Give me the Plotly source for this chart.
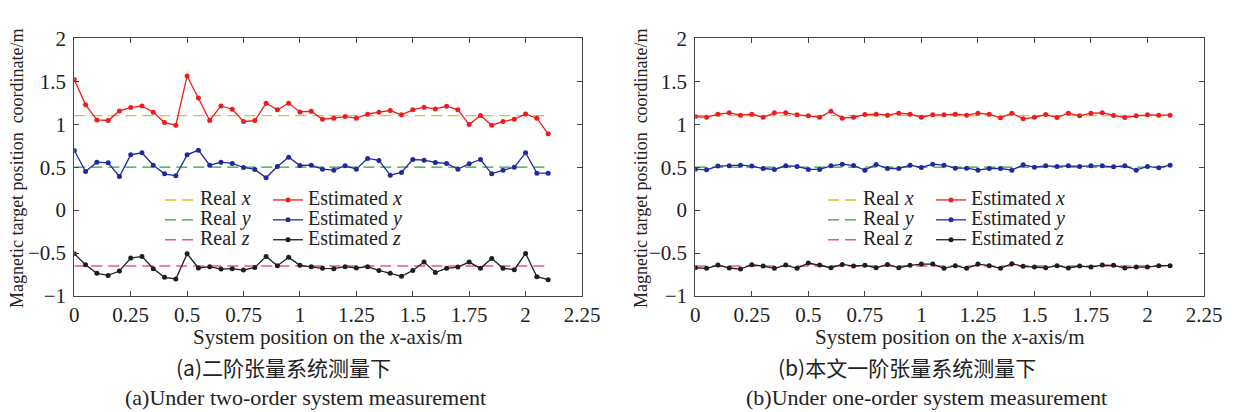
import plotly.graph_objects as go

# ---------------- data ----------------
positions = [round(0.05 * i, 2) for i in range(43)]  # 0 .. 2.1 m

real_x = 1.1
real_y = 0.5
real_z = -0.65

# (a) two-order system
a_est_x = [1.52, 1.225, 1.05, 1.043, 1.155, 1.194, 1.213, 1.14, 1.019, 0.988,
           1.562, 1.306, 1.043, 1.213, 1.174, 1.031, 1.043, 1.244, 1.167, 1.244,
           1.143, 1.151, 1.058, 1.07, 1.089, 1.07, 1.116, 1.14, 1.159, 1.109,
           1.167, 1.198, 1.178, 1.209, 1.167, 0.996, 1.101, 0.988, 1.031, 1.058,
           1.12, 1.07, 0.888]
a_est_y = [0.694, 0.45, 0.558, 0.55, 0.391, 0.643, 0.667, 0.523, 0.422, 0.399,
           0.643, 0.698, 0.523, 0.558, 0.543, 0.496, 0.473, 0.376, 0.508, 0.616,
           0.519, 0.523, 0.477, 0.465, 0.516, 0.477, 0.601, 0.578, 0.407, 0.438,
           0.589, 0.581, 0.554, 0.543, 0.477, 0.539, 0.589, 0.422, 0.465, 0.5,
           0.667, 0.43, 0.43]
a_est_z = [-0.508, -0.636, -0.736, -0.76, -0.709, -0.558, -0.539, -0.682, -0.783, -0.802,
           -0.508, -0.674, -0.659, -0.686, -0.682, -0.698, -0.667, -0.539, -0.647, -0.55,
           -0.643, -0.659, -0.678, -0.682, -0.659, -0.674, -0.659, -0.702, -0.736, -0.771,
           -0.702, -0.605, -0.725, -0.678, -0.663, -0.605, -0.678, -0.562, -0.678, -0.694,
           -0.504, -0.775, -0.81]

# (b) one-order system (this paper)
b_est_x = [1.089, 1.081, 1.116, 1.132, 1.105, 1.116, 1.081, 1.132, 1.132, 1.109,
           1.097, 1.081, 1.151, 1.07, 1.081, 1.112, 1.116, 1.105, 1.128, 1.116,
           1.081, 1.109, 1.109, 1.116, 1.105, 1.128, 1.116, 1.074, 1.128, 1.062,
           1.081, 1.112, 1.078, 1.128, 1.097, 1.128, 1.132, 1.101, 1.078, 1.097,
           1.109, 1.105, 1.105]
b_est_y = [0.477, 0.469, 0.512, 0.516, 0.523, 0.512, 0.484, 0.473, 0.516, 0.508,
           0.473, 0.473, 0.516, 0.535, 0.519, 0.465, 0.531, 0.484, 0.484, 0.523,
           0.496, 0.535, 0.523, 0.488, 0.488, 0.465, 0.484, 0.484, 0.465, 0.527,
           0.5, 0.516, 0.508, 0.516, 0.508, 0.516, 0.516, 0.504, 0.516, 0.465,
           0.508, 0.492, 0.523]
b_est_z = [-0.671, -0.678, -0.64, -0.674, -0.686, -0.636, -0.651, -0.678, -0.64, -0.678,
           -0.616, -0.64, -0.671, -0.632, -0.651, -0.643, -0.671, -0.632, -0.671, -0.643,
           -0.628, -0.628, -0.678, -0.647, -0.678, -0.628, -0.647, -0.678, -0.624, -0.655,
           -0.663, -0.671, -0.647, -0.674, -0.651, -0.663, -0.64, -0.643, -0.674, -0.663,
           -0.663, -0.647, -0.647]

x_ticks = [0, 0.25, 0.5, 0.75, 1, 1.25, 1.5, 1.75, 2, 2.25]
x_tick_labels = ["0", "0.25", "0.5", "0.75", "1", "1.25", "1.5", "1.75", "2", "2.25"]
y_ticks = [-1, -0.5, 0, 0.5, 1, 1.5, 2]
y_tick_labels = ["\u22121", "\u22120.5", "0", "0.5", "1", "1.5", "2"]

y_title = "Magnetic target position \u00a0coordinate/m"
x_title = "System position on the <i>x</i>-axis/m"
captions_cn = ["(a)二阶张量系统测量下", "(b)本文一阶张量系统测量下"]
captions_en = ["(a)Under two-order system measurement", "(b)Under one-order system measurement"]

# ---------------- style ----------------
OFF = 8                      # default page margin of the html body
PAGE_W, PAGE_H = 1234, 412
W, H = PAGE_W - OFF, PAGE_H - OFF


def fx(px):   # page pixel -> paper x
    return (px - OFF) / W


def fy(py):   # page pixel -> paper y
    return 1 - (py - OFF) / H


SERIF = "Liberation Serif, Times New Roman, serif"
CJK = "Noto Sans CJK SC"
INK = "#222"
C_REAL = ["#d2c51c", "#2aa336", "#ec4f9c"]
C_EST = ["#ee1c1c", "#1f2a9e", "#1e1e1e"]
LEG_SPAN = '<span style="font-size:20px">{}</span>'
names_real = [LEG_SPAN.format(s) for s in ["Real <i>x</i>", "Real <i>y</i>", "Real <i>z</i>"]]
names_est = [LEG_SPAN.format(s) for s in ["Estimated <i>x</i>", "Estimated <i>y</i>", "Estimated <i>z</i>"]]

# plot areas (page pixels)
panels = [(74.3, 582.0), (695.3, 1204.0)]
top_px, bot_px = 38.3, 296.0

fig = go.Figure()

panel_data = [(a_est_x, a_est_y, a_est_z), (b_est_x, b_est_y, b_est_z)]
reals = [real_x, real_y, real_z]
legend_ids = [("legend", "legend2"), ("legend3", "legend4")]

for p, (ests, (lg_r, lg_e)) in enumerate(zip(panel_data, legend_ids)):
    xa = "x" if p == 0 else "x2"
    ya = "y" if p == 0 else "y2"
    for k in range(3):
        fig.add_trace(go.Scatter(
            x=[positions[0], positions[-1]], y=[reals[k], reals[k]],
            mode="lines", name=names_real[k], legend=lg_r,
            line=dict(color=C_REAL[k], width=1.4, dash="11px,6px"),
            xaxis=xa, yaxis=ya, showlegend=True))
    for k in range(3):
        fig.add_trace(go.Scatter(
            x=positions, y=ests[k],
            mode="lines+markers", name=names_est[k], legend=lg_e,
            line=dict(color=C_EST[k], width=1.3),
            marker=dict(color=C_EST[k], size=5),
            xaxis=xa, yaxis=ya, showlegend=True))

axis_common = dict(
    showgrid=False, zeroline=False, showline=True, linecolor="#444", linewidth=1,
    mirror="ticks", ticks="inside", ticklen=5, tickcolor="#444",
    tickfont=dict(family=SERIF, size=21, color=INK), automargin=False,
)

layout = dict(
    width=W, height=H, margin=dict(l=0, r=0, t=0, b=0),
    paper_bgcolor="white", plot_bgcolor="white",
    font=dict(family=SERIF, size=17, color=INK),
)
ydom = [fy(bot_px), fy(top_px)]
for p, (l, r) in enumerate(panels):
    sfx = "" if p == 0 else "2"
    layout["xaxis" + sfx] = dict(
        axis_common, domain=[fx(l), fx(r)], range=[0, 2.25],
        tickvals=x_ticks, ticktext=x_tick_labels, anchor="y" + sfx,
        ticklabelstandoff=0)
    layout["yaxis" + sfx] = dict(
        axis_common, domain=ydom, range=[-1, 2],
        tickvals=y_ticks, ticktext=y_tick_labels, anchor="x" + sfx,
        ticklabelstandoff=3)

leg_common = dict(
    orientation="v", yanchor="middle", xanchor="left", bgcolor="rgba(0,0,0,0)",
    borderwidth=0, font=dict(family=SERIF, size=13, color=INK),
    tracegroupgap=0, itemclick=False, itemdoubleclick=False,
)
leg_x_page = [160, 268, 823, 931]
for name, xp in zip(["legend", "legend2", "legend3", "legend4"], leg_x_page):
    layout[name] = dict(leg_common, x=fx(xp), y=fy(220))

fig.update_layout(**layout)

# axis titles and captions (page pixel centres)
ytitle_x = [17, 641]
cn_x = [283, 907]
en_x = [305, 926]


def note(x, y, text, family, size, angle=0):
    fig.add_annotation(x=fx(x), y=fy(y), xref="paper", yref="paper",
                       xanchor="center", yanchor="middle",
                       text=text, textangle=angle, showarrow=False,
                       font=dict(family=family, size=size, color=INK))


for p, (l, r) in enumerate(panels):
    cx = (l + r) / 2
    note(ytitle_x[p], 168, y_title, SERIF, 18, angle=-90)
    note(cx, 337, x_title, SERIF, 21)
    note(cn_x[p], 367, captions_cn[p], CJK, 21)
    note(en_x[p], 397, captions_en[p], SERIF, 22)

fig.write_html("out.html")
